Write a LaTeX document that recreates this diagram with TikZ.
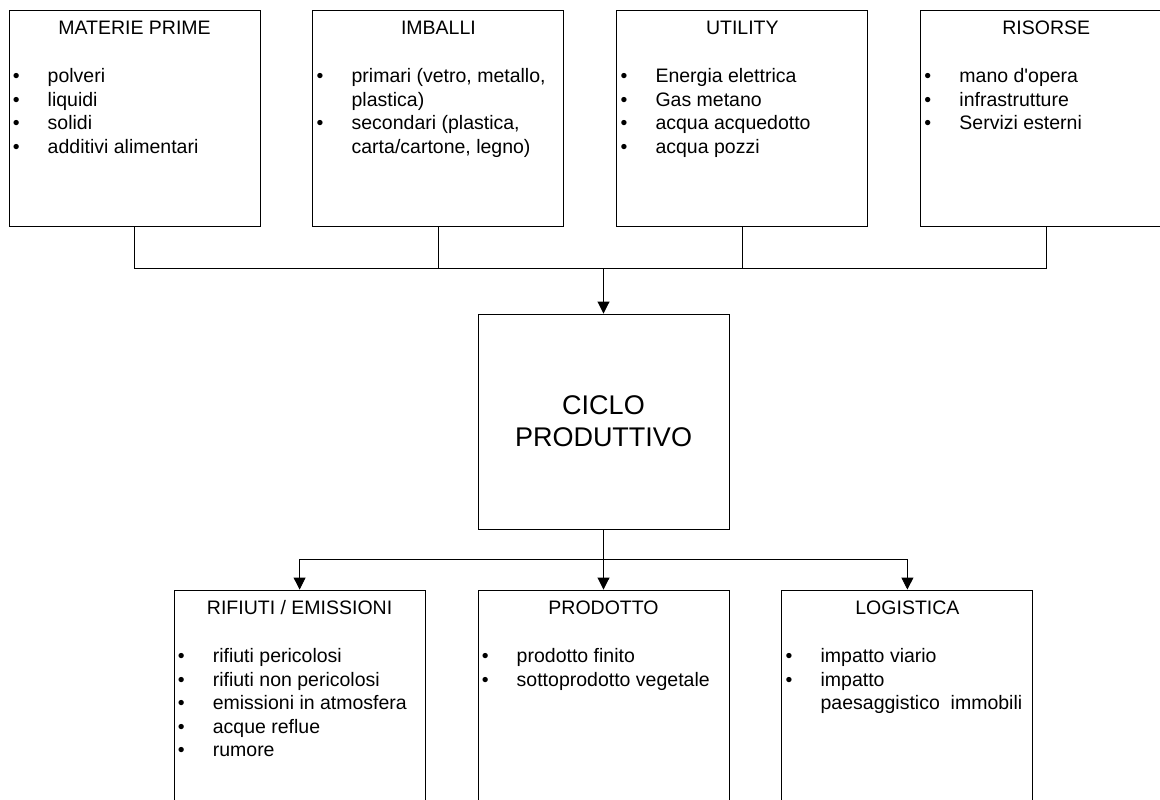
\documentclass[tikz,border=0pt]{standalone}
\usepackage{fontspec}
\setmainfont{Liberation Sans}
\usetikzlibrary{arrows.meta, positioning}
\tikzset{
  blockbox/.style={draw, rectangle, minimum width=251pt, minimum height=216pt, inner sep=0pt, line width=0.9pt},
  titletext/.style={anchor=base, inner sep=0pt, font=\fontsize{19.5}{23.5}\selectfont},
  listtext/.style={anchor=base west, inner sep=0pt, font=\fontsize{19.5}{23.5}\selectfont},
  bigtext/.style={align=center, inner sep=0pt, font=\fontsize{27}{32}\selectfont},
  link/.style={line width=0.9pt},
  arrow/.style={-{Triangle[width=12pt,length=12pt]}, line width=0.9pt}
}
\newcommand{\itemrows}[1]{\begin{tabular}[t]{@{}p{35pt}@{}l@{}}#1\end{tabular}}

\begin{document}
\begin{tikzpicture}[x=1pt, y=-1pt]
\useasboundingbox (0,0) rectangle (1160,800);
\clip (0,0) rectangle (1160,800);

% Input boxes
\node[blockbox] (mp) at (134.5,118) {};
\node[blockbox, right=52pt of mp] (imb) {};
\node[blockbox, right=52pt of imb] (ut) {};
\node[blockbox, right=52pt of ut] (ris) {};

% Central box
\node[blockbox, minimum height=215pt] (ciclo) at (603.5,421.5) {};
\node[bigtext] (cicloT) at (ciclo.center) {CICLO\\PRODUTTIVO};

% Output boxes
\node[blockbox] (prod) at (603.5,698) {};
\node[blockbox, left=52pt of prod] (rif) {};
\node[blockbox, right=52pt of prod] (log) {};

% Titles
\node[titletext, yshift=-25pt] (mpT) at (mp.north) {MATERIE PRIME};
\node[titletext, yshift=-25pt] (imbT) at (imb.north) {IMBALLI};
\node[titletext, yshift=-25pt] (utT) at (ut.north) {UTILITY};
\node[titletext, yshift=-25pt] (risT) at (ris.north) {RISORSE};
\node[titletext, yshift=-25pt] (rifT) at (rif.north) {RIFIUTI / EMISSIONI};
\node[titletext, yshift=-25pt] (prodT) at (prod.north) {PRODOTTO};
\node[titletext, yshift=-25pt] (logT) at (log.north) {LOGISTICA};

% Lists
\node[listtext, xshift=4pt, yshift=-73pt] (mpL) at (mp.north west)
  {\itemrows{• & polveri\\ • & liquidi\\ • & solidi\\ • & additivi alimentari}};
\node[listtext, xshift=4pt, yshift=-73pt] (imbL) at (imb.north west)
  {\itemrows{• & primari (vetro, metallo,\\ & plastica)\\ • & secondari (plastica,\\ & carta/cartone, legno)}};
\node[listtext, xshift=4pt, yshift=-73pt] (utL) at (ut.north west)
  {\itemrows{• & Energia elettrica\\ • & Gas metano\\ • & acqua acquedotto\\ • & acqua pozzi}};
\node[listtext, xshift=4pt, yshift=-73pt] (risL) at (ris.north west)
  {\itemrows{• & mano d\textquotesingle opera\\ • & infrastrutture\\ • & Servizi esterni}};
\node[listtext, xshift=4pt, yshift=-73pt] (rifL) at (rif.north west)
  {\itemrows{• & rifiuti pericolosi\\ • & rifiuti non pericolosi\\ • & emissioni in atmosfera\\ • & acque reflue\\ • & rumore}};
\node[listtext, xshift=4pt, yshift=-73pt] (prodL) at (prod.north west)
  {\itemrows{• & prodotto finito\\ • & sottoprodotto vegetale}};
\node[listtext, xshift=4pt, yshift=-73pt] (logL) at (log.north west)
  {\itemrows{• & impatto viario\\ • & impatto\\ & paesaggistico\ \ immobili}};

% Connections
\coordinate (jin) at (603.5,268);
\coordinate (jout) at (603.5,559);
\draw[link] (mp.south) |- (jin);
\draw[link] (imb.south) |- (jin);
\draw[link] (ut.south) |- (jin);
\draw[link] (ris.south) |- (jin);
\draw[arrow] (jin) -- (ciclo.north);
\draw[link] (ciclo.south) -- (jout);
\draw[arrow] (jout) -| (rif.north);
\draw[arrow] (jout) -- (prod.north);
\draw[arrow] (jout) -| (log.north);

\end{tikzpicture}
\end{document}
